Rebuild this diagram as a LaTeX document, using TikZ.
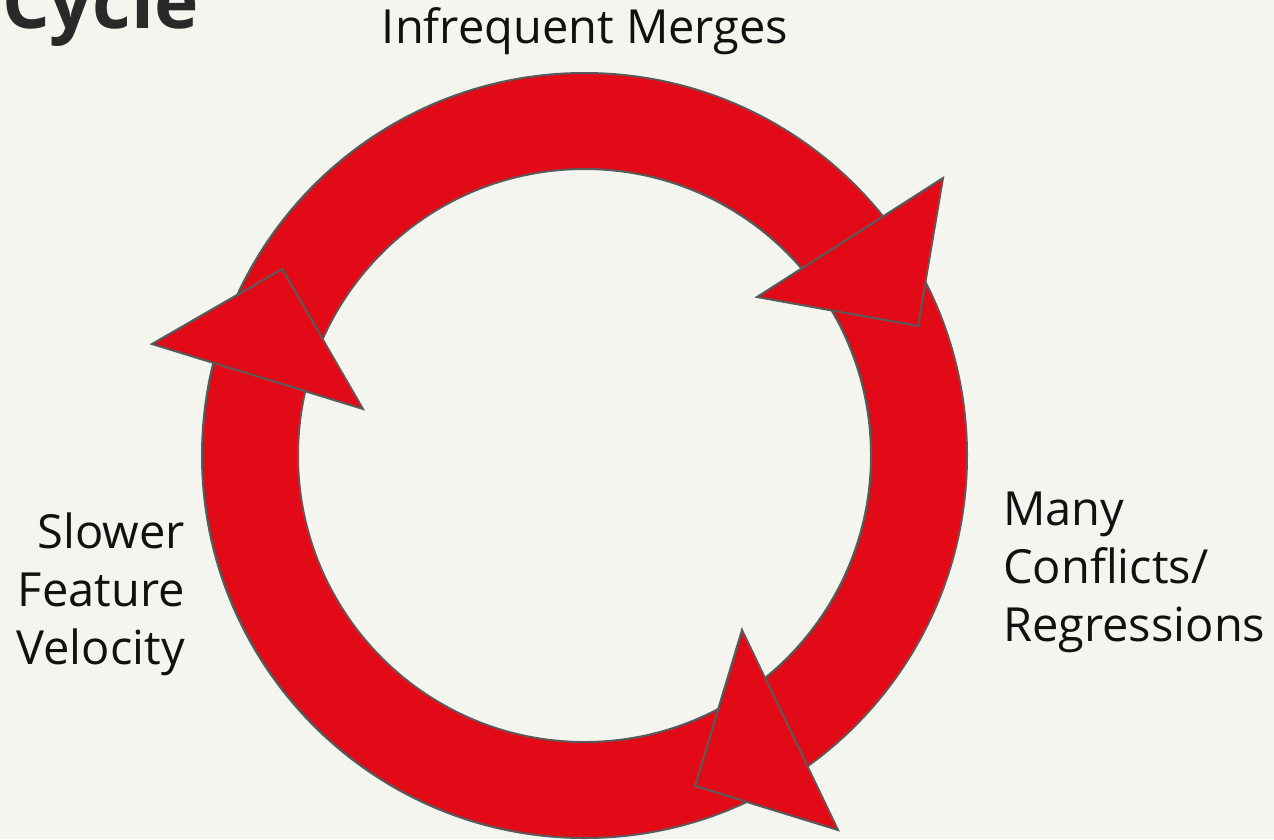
\documentclass[tikz,border=0pt]{standalone}
\usepackage{fontspec}
\setmainfont{Open Sans}
\definecolor{cyclered}{HTML}{E30A17}
\definecolor{edgegray}{HTML}{5A5A5A}
\definecolor{paper}{HTML}{F5F5F0}
\definecolor{ink}{HTML}{111111}
\begin{document}
\begin{tikzpicture}[x=1pt,y=-1pt,
		ring/.style={fill=cyclered, draw=edgegray, line width=2pt, even odd rule},
		arrowhead/.style={fill=cyclered, draw=edgegray, line width=2pt, line join=miter},
		caption/.style={inner sep=0pt, text=ink, font=\fontsize{47}{58}\selectfont}]
			\useasboundingbox (0,0) rectangle (1274,839);
			\fill[paper] (0,0) rectangle (1274,839);
			%
			\node[inner sep=0pt, anchor=base west, text=ink!90,
				font=\fontsize{75}{85}\selectfont\bfseries] (title) at (2,28) {Cycle};
			%
			\coordinate (c) at (584.5,455.5);
			\draw[ring] (c) circle[radius=382.5] (c) circle[radius=286.5];
			% arrow heads on the ring
			\draw[arrowhead] (943,178) -- (918,326) -- (757,297) -- cycle;
			\draw[arrowhead] (742,630) -- (838,830) -- (695,786) -- cycle;
			\draw[arrowhead] (282,269) -- (363,409) -- (152,344) -- cycle;
			%
			\node[caption, anchor=base] (merges) at (585,43) {Infrequent Merges};
			\node[caption, anchor=north west, align=left] (conflicts) at (1003,492)
				{Many\\Conflicts/\\Regressions};
			\node[caption, anchor=north east, align=right] (velocity) at (185,513)
				{Slower\\Feature\\Velocity};
		\end{tikzpicture}
\end{document}
